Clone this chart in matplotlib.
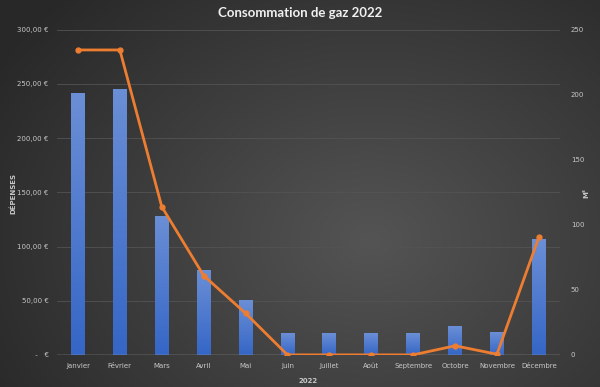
import numpy as np
import matplotlib.pyplot as plt
from matplotlib.ticker import FuncFormatter

# donnees
mois = ["Janvier", "Février", "Mars", "Avril", "Mai", "Juin", "Juillet",
        "Août", "Septembre", "Octobre", "Novembre", "Décembre"]
depenses = [242, 245.5, 128.5, 78, 50.5, 20, 20, 20, 20, 26.5, 21, 106.5]
m3 = [234.5, 234.5, 114, 61, 32, 0, 0, 0, 0, 7, 0.5, 90.5]

txt = "#c8c8c8"

fig = plt.figure(figsize=(6, 3.87), dpi=100)

# fond degrade
bg = fig.add_axes([0, 0, 1, 1], zorder=-10)
yy, xx = np.mgrid[0:387, 0:600]
r = np.sqrt(((xx - 370) / 430.0) ** 2 + ((yy - 240) / 340.0) ** 2)
g = np.clip(0.33 - 0.17 * r, 0.16, 0.33)
bg.imshow(np.dstack([g, g, g]), aspect="auto", extent=[0, 1, 0, 1])
bg.axis("off")

ax = fig.add_axes([0.095, 0.083, 0.838, 0.84])
ax.patch.set_alpha(0)
x = np.arange(len(mois))
bars = ax.bar(x, depenses, width=0.33, color="#4472C4", zorder=2)

# degrade sur les barres
grad = np.linspace(0, 1, 256).reshape(-1, 1)
cmap = plt.matplotlib.colors.LinearSegmentedColormap.from_list("b", ["#3566c6", "#6b8fd6"])
for b in bars:
    im = ax.imshow(grad, cmap=cmap, aspect="auto", origin="lower",
                   extent=[b.get_x(), b.get_x() + b.get_width(), 0, b.get_height()], zorder=2)
    im.set_clip_path(b)

ax.set_xlim(-0.5, 11.5)
ax.set_ylim(0, 300)
ax.set_yticks(np.arange(0, 301, 50))
ax.yaxis.set_major_formatter(FuncFormatter(
    lambda v, p: " -   €" if v == 0 else f"{v:,.2f} €".replace(",", " ").replace(".", ",")))
ax.set_xticks(x)
ax.set_xticklabels(mois)
ax.grid(axis="y", color="#535353", linewidth=0.6, zorder=0)
for s in ax.spines.values():
    s.set_visible(False)
ax.axhline(0, color="#a6a6a6", linewidth=1, zorder=3)
ax.tick_params(length=0, labelsize=5, colors=txt, pad=6)
ax.set_xlabel("2022", color=txt, fontsize=5, fontweight="bold", labelpad=6)

ax2 = ax.twinx()
ax2.plot(x, m3, color="#ED7D31", linewidth=2, marker="o", markersize=3.5, zorder=5)
ax2.set_ylim(0, 250)
ax2.set_yticks(np.arange(0, 251, 50))
for s in ax2.spines.values():
    s.set_visible(False)
ax2.tick_params(length=0, labelsize=5, colors=txt, pad=8)

fig.text(0.022, 0.5, "DÉPENSES", rotation=90, ha="center", va="center",
         color=txt, fontsize=5, fontweight="bold")
fig.text(0.978, 0.5, "M³", rotation=90, ha="center", va="center",
         color=txt, fontsize=5, fontweight="bold")
fig.text(0.5, 0.966, "Consommation de gaz 2022", ha="center", va="center",
         color="#f0f0f0", fontsize=9.5, fontweight="bold", family=["Lato", "DejaVu Sans"])

fig.savefig("out.png", dpi=100)
